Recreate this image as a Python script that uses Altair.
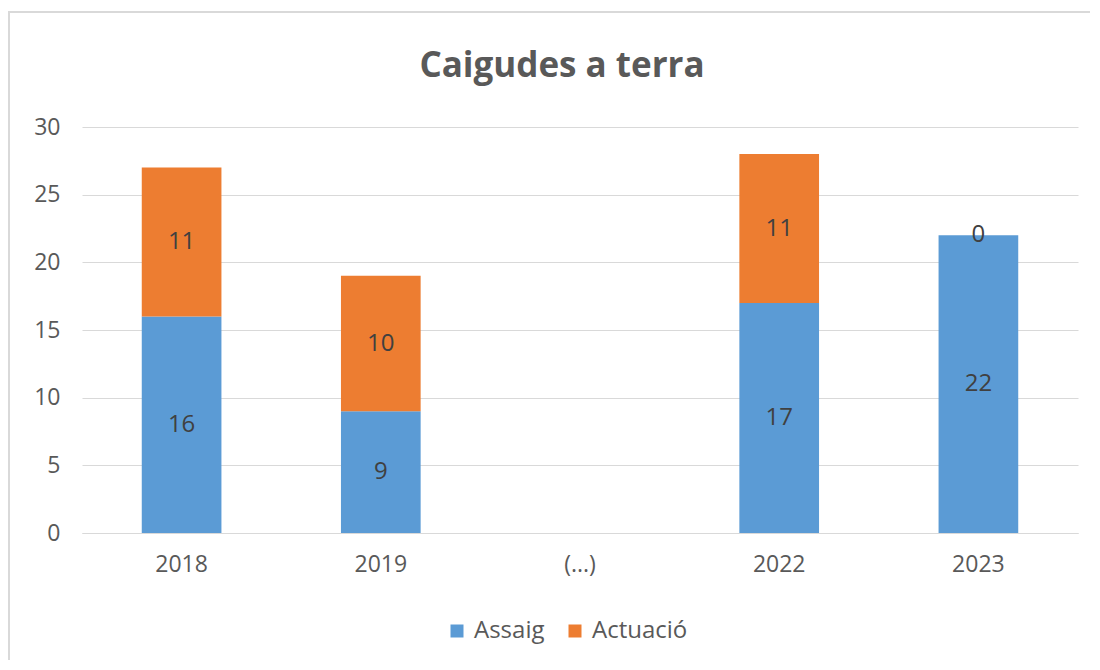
import altair as alt
import pandas as pd

years = ["2018", "2019", "(...)", "2022", "2023"]
assaig = [16, 9, None, 17, 22]
actuacio = [11, 10, None, 11, 0]
series = ["Assaig", "Actuació"]
colors = ["#5B9BD5", "#ED7D31"]
title_text = "Caigudes a terra"

rows = []
for y, a, b in zip(years, assaig, actuacio):
    if a is not None:
        rows.append({"year": y, "serie": "Assaig", "ord": 0, "value": a})
    if b is not None:
        rows.append({"year": y, "serie": "Actuació", "ord": 1, "value": b})
df = pd.DataFrame(rows)

FONT = "Open Sans"
W, H = 996, 406

base = alt.Chart(df).transform_stack(
    stack="value", groupby=["year"], sort=[alt.SortField("ord")], as_=["y0", "y1"]
).transform_calculate(mid="(datum.y0 + datum.y1) / 2")

xenc = alt.X("year:N", scale=alt.Scale(domain=years, paddingInner=0.6, paddingOuter=0.3),
             axis=alt.Axis(title=None, labelAngle=0, ticks=False, domainColor="#d9d9d9",
                           labelPadding=20, labelFontSize=23, labelColor="#595959", labelFont=FONT))

bars = base.mark_bar().encode(
    x=xenc,
    y=alt.Y("y0:Q", scale=alt.Scale(domain=[0, 30]),
            axis=alt.Axis(title=None, values=[0, 5, 10, 15, 20, 25, 30], ticks=False, domain=False,
                          gridColor="#d9d9d9", labelPadding=22, labelFontSize=23,
                          labelColor="#595959", labelFont=FONT)),
    y2="y1:Q",
    color=alt.Color("serie:N", scale=alt.Scale(domain=series, range=colors),
                    legend=alt.Legend(title=None, orient="none", legendX=363, legendY=492,
                                      direction="horizontal", symbolType="square", symbolSize=169,
                                      labelFontSize=24, labelColor="#595959", labelFont=FONT,
                                      labelOffset=5, columnPadding=18, symbolStrokeWidth=0)),
)

labels = base.mark_text(fontSize=24, color="#404040", font=FONT).encode(
    x=alt.X("year:N", scale=alt.Scale(domain=years)),
    y=alt.Y("mid:Q"),
    text=alt.Text("value:Q"),
)

frame = alt.Chart(df).mark_rect(fill=None, stroke="#d9d9d9", strokeWidth=2).encode(
    x=alt.value(-73), x2=alt.value(1100), y=alt.value(-115), y2=alt.value(700)
)

title = alt.Chart(pd.DataFrame({"t": [title_text]})).mark_text(
    fontSize=35, fontWeight="bold", color="#595959", font=FONT, align="center",
    baseline="alphabetic"
).encode(text="t:N", x=alt.value(480), y=alt.value(-50))

chart = alt.layer(frame, bars, labels, title).properties(
    width=W, height=H,
    padding={"left": 74, "top": 119, "right": 12, "bottom": 127},
    autosize=alt.AutoSizeParams(type="none"),
).configure_view(stroke=None)

chart.save("out.html", embed_options={"renderer": "svg", "actions": False})
